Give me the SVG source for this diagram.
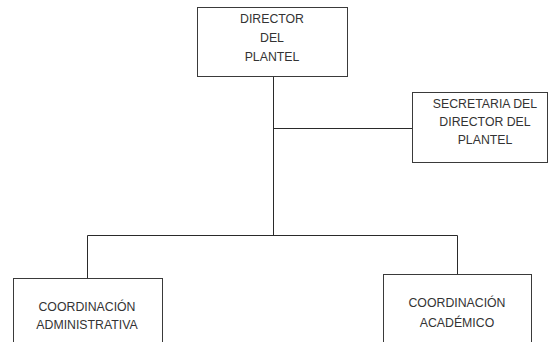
<svg xmlns="http://www.w3.org/2000/svg" width="550" height="342" viewBox="0 0 550 342">
  <style>
    .box { fill: #ffffff; stroke: #3a3a3a; stroke-width: 1; }
    .lbl { font-family: "Liberation Sans", Arial, sans-serif; font-size: 12.3px; fill: #333333; text-anchor: middle; }
    .conn { fill: none; stroke: #2a2a2a; stroke-width: 1; }
  </style>
  <rect width="550" height="342" fill="#ffffff"/>

  <g id="connectors">
    <path class="conn" d="M273.5 76 V235"/>
    <path class="conn" d="M273.5 128.5 H412"/>
    <path class="conn" d="M87.5 278 V235.5 H457.5 V274"/>
  </g>

  <g id="director">
    <rect class="box" x="197.5" y="7.5" width="150" height="69"/>
    <text class="lbl" x="272" y="23">DIRECTOR</text>
    <text class="lbl" x="272" y="42">DEL</text>
    <text class="lbl" x="272" y="61">PLANTEL</text>
  </g>

  <g id="secretaria">
    <rect class="box" x="412.5" y="92.5" width="135" height="70"/>
    <text class="lbl" x="485" y="108">SECRETARIA DEL</text>
    <text class="lbl" x="485" y="126">DIRECTOR DEL</text>
    <text class="lbl" x="485" y="144">PLANTEL</text>
  </g>

  <g id="coord-admin">
    <rect class="box" x="13.5" y="278.5" width="149" height="80"/>
    <text class="lbl" x="87" y="311">COORDINACIÓN</text>
    <text class="lbl" x="87" y="329">ADMINISTRATIVA</text>
  </g>

  <g id="coord-academico">
    <rect class="box" x="383.5" y="274.5" width="148" height="80"/>
    <text class="lbl" x="457" y="307">COORDINACIÓN</text>
    <text class="lbl" x="457" y="327">ACADÉMICO</text>
  </g>
</svg>
